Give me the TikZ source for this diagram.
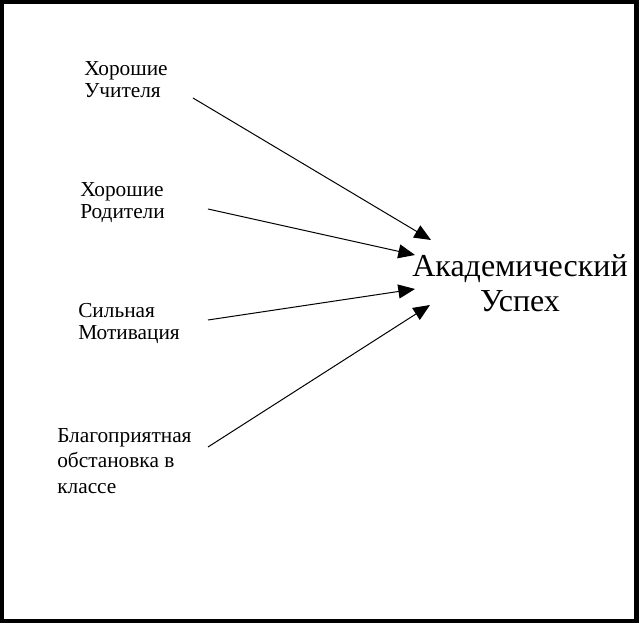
\documentclass[tikz,border=0pt]{standalone}
\usepackage{fontspec}
\setmainfont{Liberation Serif}
\usetikzlibrary{arrows.meta}
\begin{document}
\begin{tikzpicture}[x=0.75pt,y=-0.75pt,
  lbl/.style={align=left,inner sep=0pt,anchor=base west,font=\fontsize{16}{16.5}\selectfont},
  lbl4/.style={lbl,font=\fontsize{16}{18.75}\selectfont},
  big/.style={align=center,inner sep=0pt,anchor=base,font=\fontsize{24}{26.25}\selectfont},
  arr/.style={line width=0.75pt,-{Triangle[length=12.5pt,width=10.5pt]}}]
\useasboundingbox (0,0) rectangle (639,623);
\draw[line width=3.5pt] (2,2) rectangle (636.5,621);
\node[lbl] (t) at (84,98) {Хорошие\\Учителя};
\node[lbl] (p) at (80,219) {Хорошие\\Родители};
\node[lbl] (m) at (78,340) {Сильная\\Мотивация};
\node[lbl4] (c) at (57,493) {Благоприятная\\обстановка в\\классе};
\node[big] (a) at (520,312) {Академический\\Успех};
\coordinate (t1) at (193,98);
\coordinate (p1) at (208,209);
\coordinate (m1) at (208,320);
\coordinate (c1) at (208,447);
\coordinate (a1) at (431,240);
\coordinate (a2) at (415,255);
\coordinate (a3) at (415,289);
\coordinate (a4) at (430,305);
\draw[arr] (t1) -- (a1);
\draw[arr] (p1) -- (a2);
\draw[arr] (m1) -- (a3);
\draw[arr] (c1) -- (a4);
\end{tikzpicture}
\end{document}
